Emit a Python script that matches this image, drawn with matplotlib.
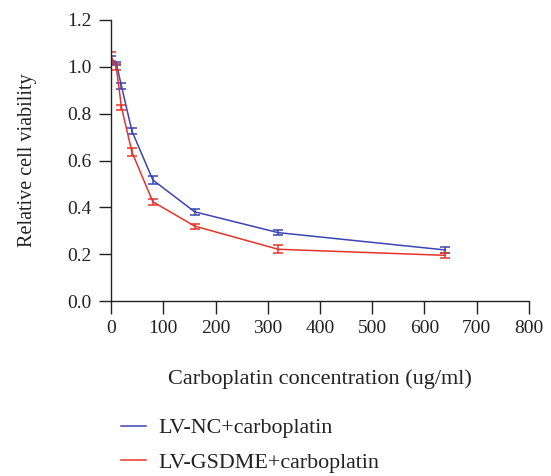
import matplotlib
matplotlib.use("Agg")
import matplotlib.pyplot as plt
from matplotlib.lines import Line2D

conc = [0, 10, 20, 40, 80, 160, 320, 640]
nc_mean = [1.03, 1.015, 0.918, 0.726, 0.517, 0.381, 0.292, 0.218]
nc_err = [0.018, 0.006, 0.013, 0.014, 0.016, 0.012, 0.012, 0.014]
gs_mean = [1.045, 1.0, 0.827, 0.636, 0.424, 0.320, 0.221, 0.195]
gs_err = [0.02, 0.014, 0.011, 0.016, 0.012, 0.011, 0.018, 0.010]
labels = ["LV-NC+carboplatin", "LV-GSDME+carboplatin"]
xticks = [0, 100, 200, 300, 400, 500, 600, 700, 800]
yticks = [0.0, 0.2, 0.4, 0.6, 0.8, 1.0, 1.2]

plt.rcParams['font.family'] = ['Liberation Serif', 'DejaVu Serif']

fig = plt.figure(figsize=(5.51, 4.76), dpi=100)
ax = fig.add_axes([0.2015, 0.3676, 0.7585, 0.5904])

blue = '#3B45B3'
red = '#E5342A'
txt = '#222222'
ax.errorbar(conc, nc_mean, yerr=nc_err, color=blue, lw=1.1, capsize=3.6,
            elinewidth=1.1, capthick=1.1)
ax.errorbar(conc, gs_mean, yerr=gs_err, color=red, lw=1.1, capsize=3.6,
            elinewidth=1.1, capthick=1.1)

ax.set_xlim(0, 800)
ax.set_ylim(0, 1.2)
ax.set_xticks(xticks)
ax.set_yticks(yticks)
ax.set_yticklabels([f"{v:.1f}" for v in yticks])
ax.spines['top'].set_visible(False)
ax.spines['right'].set_visible(False)
for s in ['left', 'bottom']:
    ax.spines[s].set_linewidth(1.0)
    ax.spines[s].set_color(txt)
ax.tick_params(direction='out', length=9, width=1.0, labelsize=14, colors=txt, pad=5)
ax.set_xlabel("Carboplatin concentration (ug/ml)", fontsize=16, labelpad=23, color=txt)
ax.set_ylabel("Relative cell viability", fontsize=14.5, labelpad=22, color=txt)

handles = [Line2D([], [], color=blue, lw=1.1), Line2D([], [], color=red, lw=1.1)]
fig.legend(handles=handles, labels=labels, loc='center left',
           bbox_to_anchor=(0.2196, 0.064), frameon=False, borderpad=0,
           borderaxespad=0, handlelength=1.13, handletextpad=0.55,
           labelspacing=0.65, fontsize=15.8, labelcolor=txt)

fig.savefig("out.png", dpi=100)
